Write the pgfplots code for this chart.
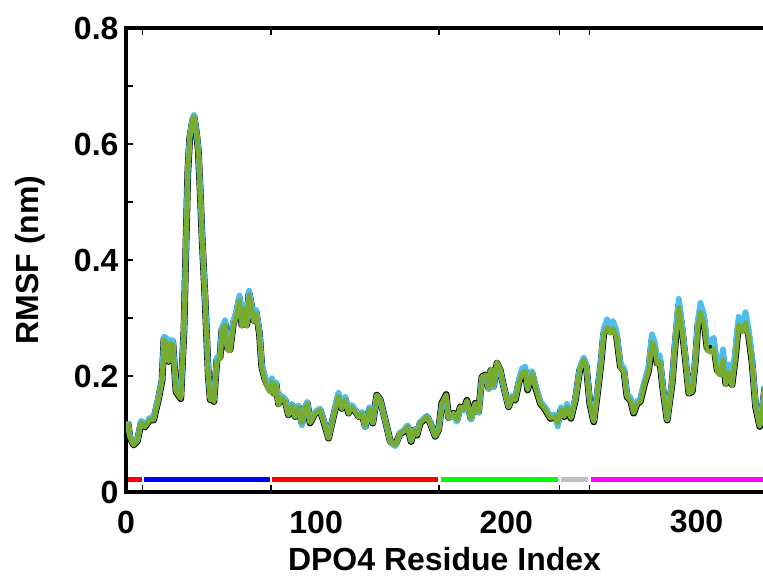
\documentclass[border=0pt]{standalone}
\usepackage{pgfplots}
\pgfplotsset{compat=1.18}
\usepackage{fontspec}
\setmainfont{Liberation Sans}
\usetikzlibrary{calc}
\definecolor{mgreen}{rgb}{0.466,0.674,0.188}
\definecolor{mblue}{rgb}{0.301,0.745,0.933}
\definecolor{bgreen}{rgb}{0,1,0}
\definecolor{bgray}{rgb}{0.75,0.75,0.75}
\definecolor{bmag}{rgb}{1,0,1}
\begin{document}
\begin{tikzpicture}
\begin{axis}[
  scale only axis,
  width=637pt, height=464pt,
  xmin=0, xmax=335, ymin=0, ymax=0.8,
  axis x line*=box, axis y line*=left,
  axis line style={line width=4.5pt, line cap=rect},
  tick align=inside,
  xtick={8.8,76.2,164.7,227.9,243.7},
  xticklabels={},
  extra x ticks={0,100,200,300},
  extra x tick labels={0,100,200,300},
  extra x tick style={major tick length=0pt},
  ytick={0,0.2,0.4,0.6,0.8},
  yticklabels={0,0.2,0.4,0.6,0.8},
  minor y tick num=1,
  major tick length=7pt, minor tick length=7pt,
  tick style={line width=1.4pt, black},
  ticklabel style={font=\fontsize{32}{32}\selectfont\bfseries},
  xticklabel style={anchor=center, yshift=-30pt},
  yticklabel style={anchor=east, xshift=-4pt},
  /pgf/number format/assume math mode=true,
  xlabel={DPO4 Residue Index},
  ylabel={RMSF (nm)},
  xlabel style={at={(axis description cs:0.5,-0.145)}, anchor=center},
  ylabel style={at={(axis description cs:-0.1507,0.5)}, anchor=center},
  label style={font=\fontsize{32}{32}\selectfont\bfseries},
  clip=true,
]
\addplot[black, line width=6.8pt, line join=round] table {
x y
1 0.120
2 0.095
4 0.081
6 0.088
8 0.120
10 0.112
12.5 0.125
14.5 0.124
17 0.159
19 0.193
20 0.265
21.4 0.262
22.3 0.225
23.2 0.259
24.6 0.259
26.3 0.173
28.8 0.161
30.5 0.280
31.5 0.420
32.5 0.550
33.5 0.610
35 0.640
35.8 0.647
37 0.620
38 0.590
39 0.520
40 0.440
41.6 0.331
43.3 0.200
44.3 0.159
45.2 0.175
46.2 0.156
47.8 0.228
49.5 0.233
50.4 0.279
52.1 0.291
53.3 0.248
54.7 0.245
56.5 0.291
58.2 0.308
59.7 0.334
60.9 0.288
62.1 0.319
63.5 0.288
64.7 0.343
66.1 0.319
67 0.296
68.4 0.311
70.2 0.273
71.4 0.216
73 0.195
74 0.187
75.8 0.176
76.7 0.193
77.9 0.170
78.9 0.187
80.2 0.152
81.9 0.164
83.7 0.158
85.4 0.133
87.2 0.150
88.9 0.130
90.7 0.147
92.5 0.119
94.2 0.144
95.4 0.153
96.8 0.119
99.5 0.136
102 0.142
104.2 0.119
106.5 0.093
109.1 0.130
111.8 0.167
113.5 0.144
115.3 0.161
117 0.136
118.8 0.147
120.5 0.140
122.3 0.130
124 0.136
125.8 0.113
128.1 0.144
129.8 0.119
131.9 0.167
133.7 0.159
136.3 0.124
139 0.087
141.6 0.081
144.2 0.101
146 0.104
148.1 0.113
149.9 0.087
151.6 0.107
153 0.098
154.7 0.119
156.5 0.124
158.2 0.130
160 0.119
162.6 0.096
164.4 0.107
166.1 0.153
168.4 0.168
169.6 0.128
172.3 0.136
174 0.124
175.8 0.147
177.5 0.142
179.3 0.158
181.4 0.127
183.7 0.153
185.4 0.138
187.2 0.199
189.5 0.202
190.7 0.179
191.9 0.210
193.3 0.182
195.1 0.222
196.8 0.210
198.6 0.182
201.2 0.147
203 0.164
204.7 0.158
206.5 0.187
208.2 0.207
210 0.210
211.2 0.176
213.5 0.205
215.2 0.182
217.9 0.153
220.5 0.142
223.2 0.127
225.8 0.130
227 0.119
228.8 0.142
230.5 0.130
231.9 0.147
234 0.127
236.3 0.158
238.6 0.210
240.7 0.228
242.1 0.216
243.9 0.153
246 0.121
247.7 0.164
249.8 0.222
251.2 0.273
253 0.288
254.7 0.276
256.1 0.285
257.9 0.271
260 0.216
261.8 0.210
263.5 0.164
265.3 0.158
267 0.136
268.8 0.153
270.5 0.156
272.6 0.185
274.9 0.210
276.6 0.262
277.9 0.253
279.3 0.222
280.7 0.228
282.4 0.176
284.6 0.124
287.2 0.187
289 0.262
290.7 0.322
292.5 0.279
294.2 0.228
296 0.170
297.8 0.173
299.5 0.228
300.7 0.285
302.1 0.314
303.9 0.296
305.6 0.248
307.4 0.245
309.1 0.253
310.9 0.210
312.6 0.204
314 0.233
315.4 0.187
317 0.210
318.7 0.185
320.5 0.233
322.2 0.291
324 0.279
325.8 0.296
327.5 0.268
329.3 0.222
331.1 0.147
333.3 0.113
334.6 0.142
336 0.180
};
\addplot[mblue, line width=5.8pt, line join=round] table {
x y
1 0.122
2 0.097
4 0.083
6 0.090
8 0.123
10 0.115
12.5 0.128
14.5 0.127
17 0.162
19 0.196
20 0.268
21.4 0.265
22.3 0.228
23.2 0.262
24.6 0.261
26.3 0.176
28.8 0.164
30.5 0.283
31.5 0.423
32.5 0.553
33.5 0.613
35 0.644
35.8 0.650
37 0.623
38 0.593
39 0.523
40 0.443
41.6 0.334
43.3 0.203
44.3 0.162
45.2 0.178
46.2 0.159
47.8 0.232
49.5 0.236
50.4 0.283
52.1 0.296
53.3 0.251
54.7 0.248
56.5 0.295
58.2 0.313
59.7 0.339
60.9 0.291
62.1 0.323
63.5 0.291
64.7 0.347
66.1 0.322
67 0.299
68.4 0.314
70.2 0.276
71.4 0.220
73 0.199
74 0.192
75.8 0.181
76.7 0.196
77.9 0.172
78.9 0.189
80.2 0.154
81.9 0.166
83.7 0.160
85.4 0.135
87.2 0.151
88.9 0.131
90.7 0.149
92.5 0.115
94.2 0.146
95.4 0.155
96.8 0.121
99.5 0.138
102 0.144
104.2 0.121
106.5 0.094
109.1 0.132
111.8 0.171
113.5 0.147
115.3 0.164
117 0.139
118.8 0.150
120.5 0.142
122.3 0.132
124 0.138
125.8 0.112
128.1 0.146
129.8 0.120
131.9 0.166
133.7 0.158
136.3 0.124
139 0.087
141.6 0.079
144.2 0.102
146 0.106
148.1 0.115
149.9 0.089
151.6 0.108
153 0.100
154.7 0.121
156.5 0.126
158.2 0.131
160 0.120
162.6 0.097
164.4 0.108
166.1 0.150
168.4 0.163
169.6 0.128
172.3 0.134
174 0.121
175.8 0.145
177.5 0.140
179.3 0.155
181.4 0.125
183.7 0.151
185.4 0.137
187.2 0.197
189.5 0.201
190.7 0.178
191.9 0.208
193.3 0.181
195.1 0.220
196.8 0.209
198.6 0.182
201.2 0.148
203 0.166
204.7 0.161
206.5 0.191
208.2 0.213
210 0.216
211.2 0.180
213.5 0.208
215.2 0.185
217.9 0.156
220.5 0.146
223.2 0.131
225.8 0.134
227 0.113
228.8 0.146
230.5 0.134
231.9 0.152
234 0.130
236.3 0.161
238.6 0.213
240.7 0.232
242.1 0.220
243.9 0.156
246 0.124
247.7 0.168
249.8 0.227
251.2 0.281
253 0.298
254.7 0.284
256.1 0.295
257.9 0.278
260 0.221
261.8 0.214
263.5 0.168
265.3 0.163
267 0.139
268.8 0.157
270.5 0.160
272.6 0.190
274.9 0.216
276.6 0.272
277.9 0.260
279.3 0.230
280.7 0.236
282.4 0.180
284.6 0.126
287.2 0.191
289 0.270
290.7 0.333
292.5 0.286
294.2 0.233
296 0.173
297.8 0.176
299.5 0.233
300.7 0.293
302.1 0.326
303.9 0.306
305.6 0.262
307.4 0.258
309.1 0.266
310.9 0.222
312.6 0.216
314 0.246
315.4 0.196
317 0.220
318.7 0.195
320.5 0.246
322.2 0.302
324 0.289
325.8 0.310
327.5 0.279
329.3 0.229
331.1 0.151
333.3 0.116
334.6 0.145
336 0.183
};
\addplot[mgreen, line width=4.8pt, line join=round] table {
x y
1 0.120
2 0.095
4 0.081
6 0.088
8 0.120
10 0.112
12.5 0.125
14.5 0.124
17 0.159
19 0.193
20 0.262
21.4 0.255
22.3 0.225
23.2 0.256
24.6 0.255
26.3 0.173
28.8 0.161
30.5 0.280
31.5 0.420
32.5 0.550
33.5 0.612
35 0.642
35.8 0.648
37 0.622
38 0.590
39 0.520
40 0.440
41.6 0.331
43.3 0.200
44.3 0.159
45.2 0.175
46.2 0.156
47.8 0.225
49.5 0.230
50.4 0.276
52.1 0.288
53.3 0.245
54.7 0.243
56.5 0.288
58.2 0.305
59.7 0.330
60.9 0.286
62.1 0.316
63.5 0.286
64.7 0.340
66.1 0.316
67 0.294
68.4 0.308
70.2 0.271
71.4 0.214
73 0.192
74 0.184
75.8 0.172
76.7 0.190
77.9 0.168
78.9 0.185
80.2 0.150
81.9 0.162
83.7 0.156
85.4 0.132
87.2 0.149
88.9 0.129
90.7 0.146
92.5 0.119
94.2 0.143
95.4 0.152
96.8 0.119
99.5 0.135
102 0.141
104.2 0.119
106.5 0.093
109.1 0.129
111.8 0.165
113.5 0.143
115.3 0.159
117 0.135
118.8 0.146
120.5 0.139
122.3 0.129
124 0.135
125.8 0.114
128.1 0.143
129.8 0.119
131.9 0.167
133.7 0.159
136.3 0.124
139 0.087
141.6 0.081
144.2 0.101
146 0.104
148.1 0.113
149.9 0.087
151.6 0.107
153 0.098
154.7 0.119
156.5 0.124
158.2 0.130
160 0.119
162.6 0.096
164.4 0.107
166.1 0.153
168.4 0.168
169.6 0.128
172.3 0.136
174 0.124
175.8 0.147
177.5 0.142
179.3 0.158
181.4 0.127
183.7 0.153
185.4 0.138
187.2 0.199
189.5 0.202
190.7 0.179
191.9 0.212
193.3 0.184
195.1 0.224
196.8 0.212
198.6 0.183
201.2 0.147
203 0.164
204.7 0.158
206.5 0.186
208.2 0.205
210 0.208
211.2 0.176
213.5 0.205
215.2 0.182
217.9 0.153
220.5 0.142
223.2 0.127
225.8 0.130
227 0.119
228.8 0.142
230.5 0.130
231.9 0.147
234 0.127
236.3 0.158
238.6 0.210
240.7 0.228
242.1 0.216
243.9 0.153
246 0.121
247.7 0.164
249.8 0.222
251.2 0.271
253 0.284
254.7 0.274
256.1 0.282
257.9 0.268
260 0.214
261.8 0.209
263.5 0.164
265.3 0.158
267 0.136
268.8 0.153
270.5 0.156
272.6 0.185
274.9 0.209
276.6 0.258
277.9 0.250
279.3 0.220
280.7 0.225
282.4 0.176
284.6 0.124
287.2 0.187
289 0.260
290.7 0.318
292.5 0.277
294.2 0.227
296 0.170
297.8 0.173
299.5 0.226
300.7 0.282
302.1 0.310
303.9 0.292
305.6 0.244
307.4 0.241
309.1 0.247
310.9 0.207
312.6 0.201
314 0.228
315.4 0.185
317 0.207
318.7 0.183
320.5 0.229
322.2 0.288
324 0.276
325.8 0.292
327.5 0.265
329.3 0.220
331.1 0.147
333.3 0.113
334.6 0.142
336 0.180
};
\addplot[red, line width=5pt] coordinates {(1,0.021) (8.2,0.021)};
\addplot[blue, line width=5pt] coordinates {(9.5,0.021) (75.6,0.021)};
\addplot[red, line width=5pt] coordinates {(76.9,0.021) (164.1,0.021)};
\addplot[bgreen, line width=5pt] coordinates {(165.4,0.021) (227.3,0.021)};
\addplot[bgray, line width=5pt] coordinates {(228.6,0.021) (243.0,0.021)};
\addplot[bmag, line width=5pt] coordinates {(244.4,0.021) (336,0.021)};
\end{axis}
\pgfresetboundingbox
\path ($(current axis.south west)+(-126pt,-86pt)$) rectangle ($(current axis.north east)+(0pt,28pt)$);
\end{tikzpicture}
\end{document}
